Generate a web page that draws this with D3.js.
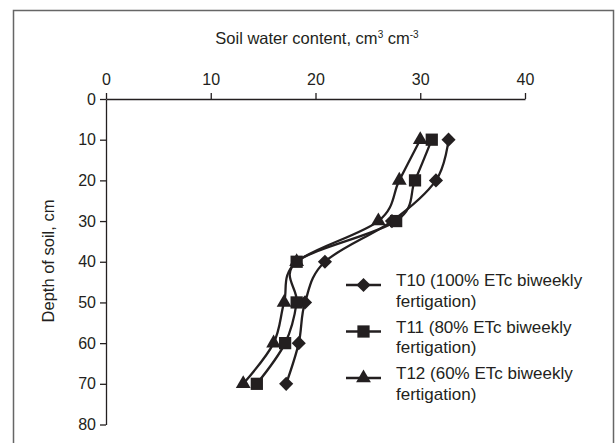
<!DOCTYPE html>
<html>
<head>
<meta charset="utf-8">
<script src="https://cdn.jsdelivr.net/npm/d3@7"></script>
<style>
  body { margin: 0; background: #fff; }
  svg { font-family: "Liberation Sans", Arial, sans-serif; }
</style>
</head>
<body>
<div id="chart"></div>
<script>
// depths (cm) and soil water content for each treatment
const depths = [10, 20, 30, 40, 50, 60, 70];
const t10 = [32.7, 31.5, 27.3, 20.9, 19.0, 18.4, 17.2];
const t11 = [31.1, 29.5, 27.7, 18.2, 18.2, 17.1, 14.4];
const t12 = [30.0, 28.0, 26.0, 18.2, 17.0, 16.0, 13.1];
const xTicks = [0, 10, 20, 30, 40];
const yTicks = [0, 10, 20, 30, 40, 50, 60, 70, 80];
const seriesNames = [
    ["T10 (100% ETc biweekly", "fertigation)"],
    ["T11 (80% ETc biweekly", "fertigation)"],
    ["T12 (60% ETc biweekly", "fertigation)"]
];

const W = 615, H = 443;
const ink = "#231f20";

const svg = d3.select("#chart")
    .append("svg")
    .attr("width", W)
    .attr("height", H);

// outer frame
svg.append("rect")
    .attr("x", 13.5).attr("y", 10.5)
    .attr("width", 600).attr("height", 450)
    .attr("fill", "none")
    .attr("stroke", "#666")
    .attr("stroke-width", 1.5);

const xScale = d3.scaleLinear().domain([0, 40]).range([106, 525]);
const yScale = d3.scaleLinear().domain([0, 80]).range([99, 424.5]);

const xAxis = svg.append("g")
    .attr("transform", `translate(0,${yScale(0)})`)
    .call(d3.axisTop(xScale).tickValues(xTicks).tickSize(6).tickSizeOuter(0).tickPadding(8));

const yAxis = svg.append("g")
    .attr("transform", `translate(${xScale(0)},0)`)
    .call(d3.axisLeft(yScale).tickValues(yTicks).tickSize(6).tickSizeOuter(0).tickPadding(4));

[xAxis, yAxis].forEach(a => {
    a.selectAll("path, line").attr("stroke", ink).attr("stroke-width", 1.3);
    a.selectAll("text").attr("fill", ink).style("font-size", "16px")
        .style("font-family", "'Liberation Sans', Arial, sans-serif");
});

// axis titles
const title = svg.append("text")
    .attr("x", 317).attr("y", 44)
    .attr("text-anchor", "middle")
    .attr("fill", ink)
    .style("font-size", "16.5px")
    .text("Soil water content, cm");
title.append("tspan").attr("dy", -6).style("font-size", "10px").text("3");
title.append("tspan").attr("dy", 6).text(" cm");
title.append("tspan").attr("dy", -6).style("font-size", "10px").text("-3");

svg.append("text")
    .attr("transform", "rotate(-90)")
    .attr("x", -261).attr("y", 54)
    .attr("text-anchor", "middle")
    .attr("fill", ink)
    .style("font-size", "16.5px")
    .text("Depth of soil, cm");

const series = [
    { vals: t10, symbol: d3.symbolSquare, size: 100, rot: 45 },
    { vals: t11, symbol: d3.symbolSquare, size: 150, rot: 0 },
    { vals: t12, symbol: d3.symbolTriangle, size: 95, rot: 0 }
];

const line = d3.line()
    .x(d => xScale(d[0]))
    .y(d => yScale(d[1]))
    .curve(d3.curveCardinal.tension(0));

series.forEach(s => {
    const pts = s.vals.map((v, i) => [v, depths[i]]);
    svg.append("path")
        .datum(pts)
        .attr("d", line)
        .attr("fill", "none")
        .attr("stroke", ink)
        .attr("stroke-width", 2.3);
    svg.selectAll(null)
        .data(pts)
        .enter()
        .append("path")
        .attr("transform", d => `translate(${xScale(d[0])},${yScale(d[1])}) rotate(${s.rot})`)
        .attr("d", d3.symbol().type(s.symbol).size(s.size))
        .attr("fill", ink);
});

// legend
const legend = svg.append("g").attr("transform", "translate(346,285)");
series.forEach((s, i) => {
    const g = legend.append("g").attr("transform", `translate(0,${i * 46.5})`);
    g.append("line")
        .attr("x1", 0).attr("x2", 35)
        .attr("stroke", ink).attr("stroke-width", 2.3);
    g.append("path")
        .attr("transform", `translate(17.5,0) rotate(${s.rot})`)
        .attr("d", d3.symbol().type(s.symbol).size(s.size))
        .attr("fill", ink);
    const t = g.append("text")
        .attr("x", 50).attr("y", 1)
        .attr("fill", ink)
        .style("font-size", "17px");
    t.append("tspan").attr("x", 50).text(seriesNames[i][0]);
    t.append("tspan").attr("x", 50).attr("dy", 20.5).text(seriesNames[i][1]);
});
</script>
</body>
</html>
